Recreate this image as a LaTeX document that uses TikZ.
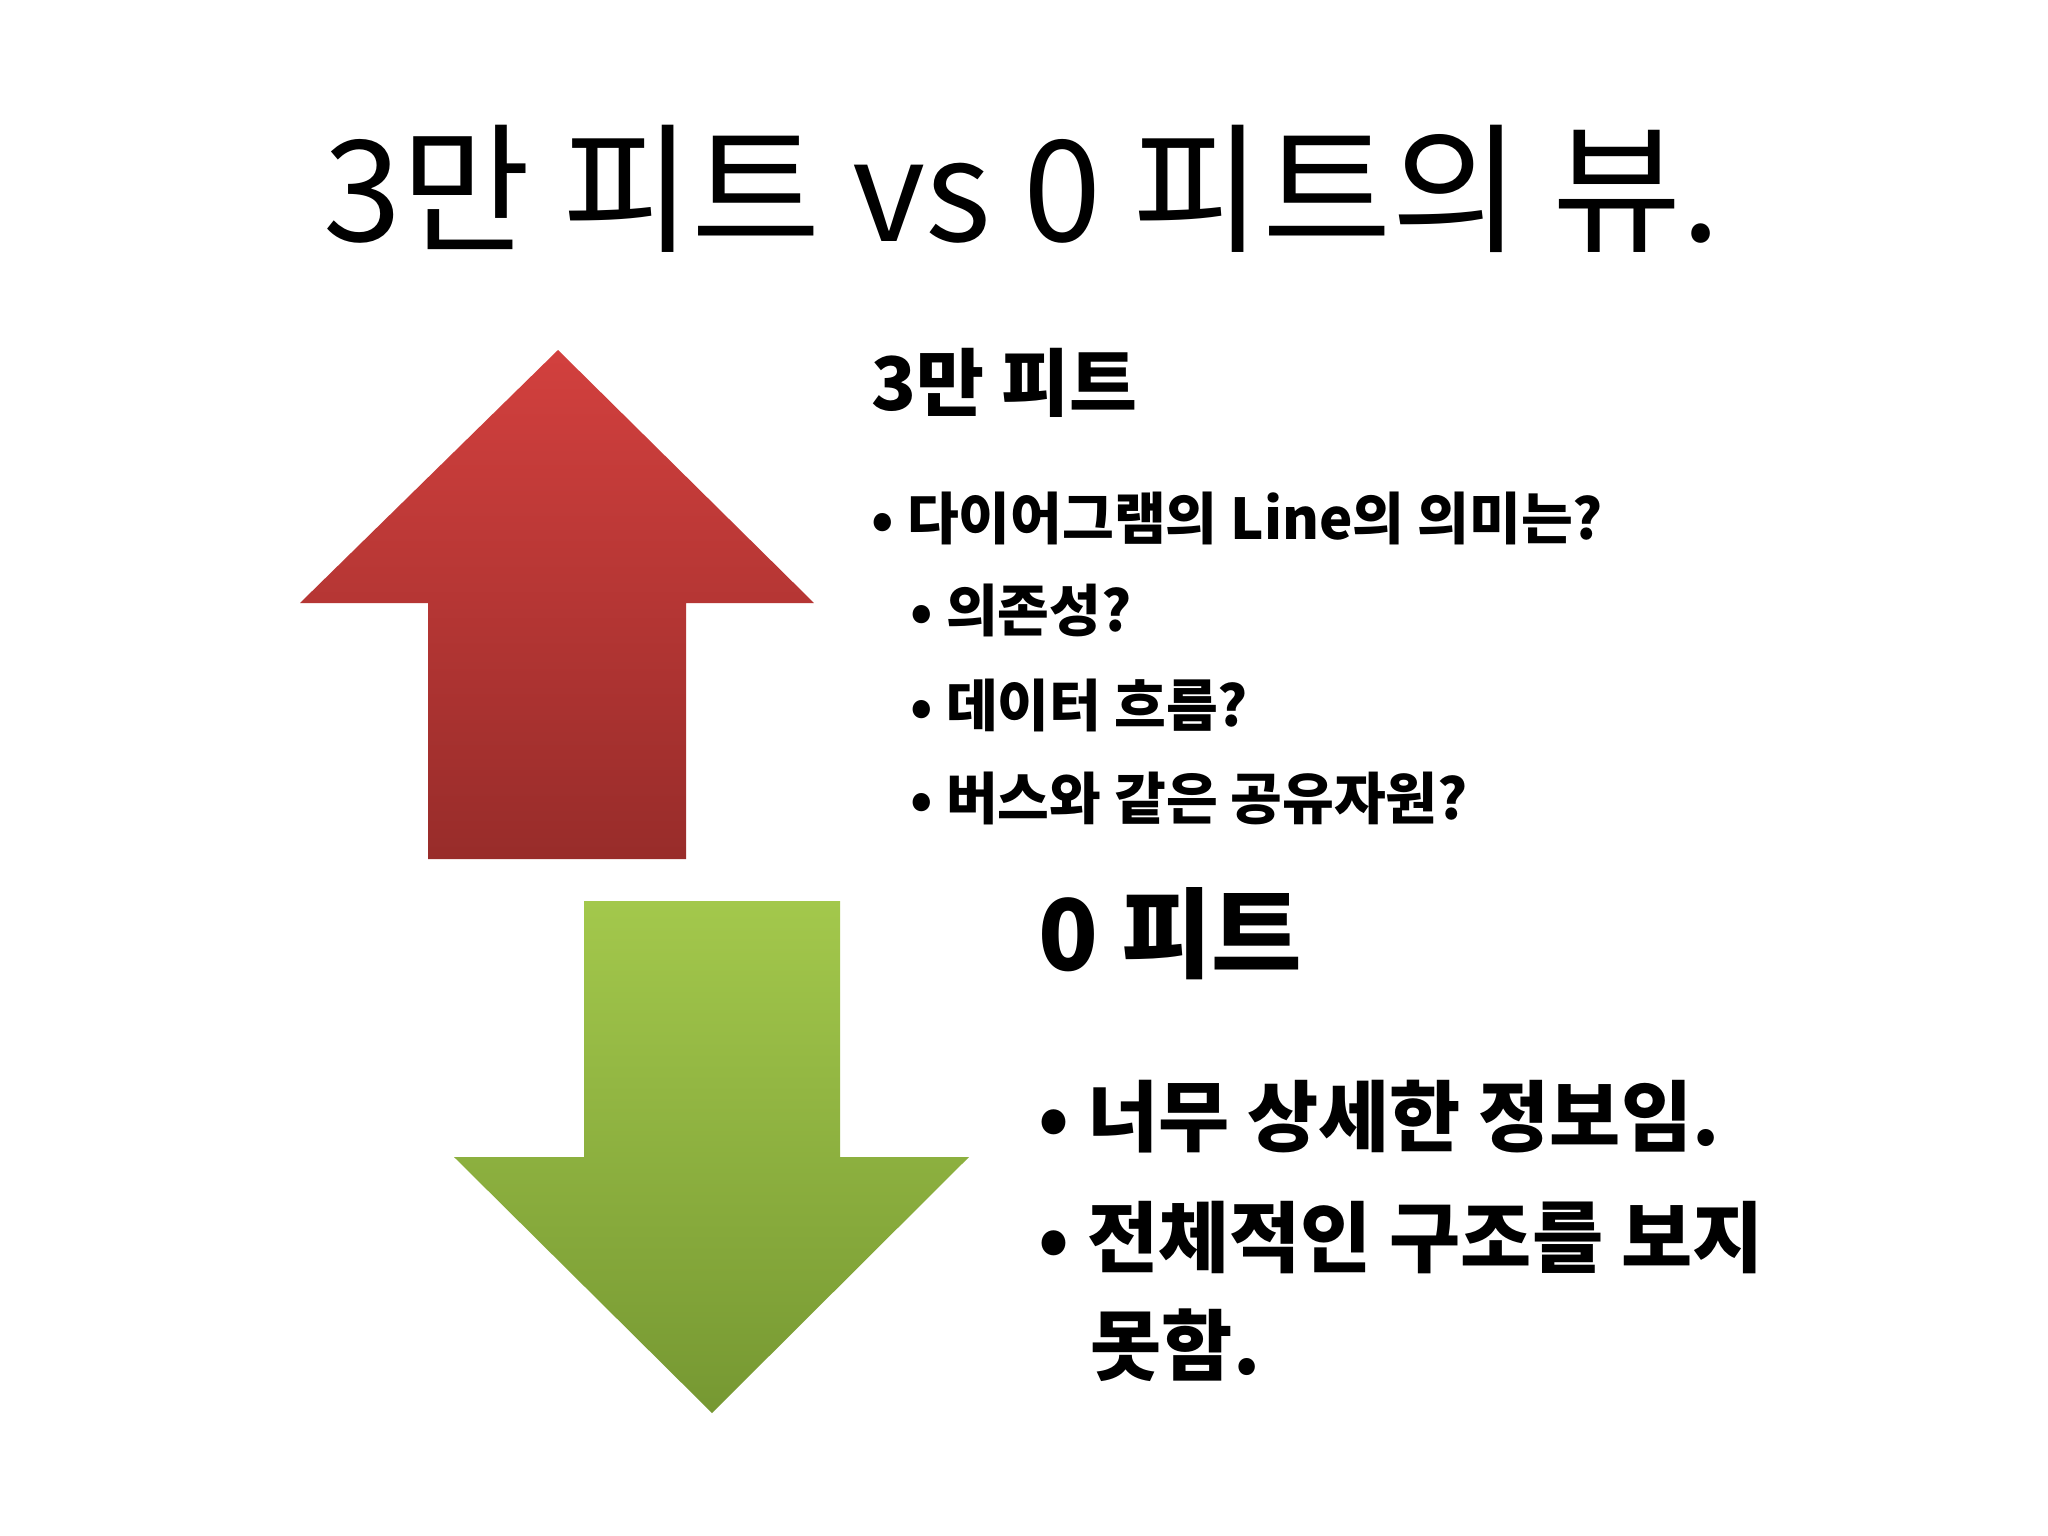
\documentclass[tikz,border=0pt]{standalone}
\usepackage{fontspec}
\setmainfont{Noto Sans CJK KR}
\begin{document}
\begin{tikzpicture}[x=0.01cm,y=-0.01cm,
  txt/.style={anchor=west,inner sep=0pt,font=\bfseries}]
\useasboundingbox[fill=white] (0,0) rectangle (2048,1536);
\definecolor{rt}{RGB}{210,64,62}\definecolor{rb}{RGB}{152,44,42}
\definecolor{gt}{RGB}{163,200,76}\definecolor{gb}{RGB}{118,152,50}
\shade[top color=rt,bottom color=rb] (558,350) -- (814,603) -- (686,603) -- (686,859) -- (428,859) -- (428,603) -- (300,603) -- cycle;
\shade[top color=gt,bottom color=gb] (584,901) -- (840,901) -- (840,1157) -- (969,1157) -- (712,1413) -- (454,1157) -- (584,1157) -- cycle;
\node[anchor=center,inner sep=0pt,font=\fontsize{40}{48}\selectfont] (title) at (1022,189) {3만 피트 vs 0 피트의 뷰.};
\node[txt,font=\bfseries\fontsize{21}{25}\selectfont] (h1) at (871,383) {3만 피트};
\node[txt,font=\bfseries\fontsize{16}{20}\selectfont] (b1) at (871,518) {• 다이어그램의 Line의 의미는?};
\node[txt,font=\bfseries\fontsize{16}{20}\selectfont] (b2) at (910,610) {• 의존성?};
\node[txt,font=\bfseries\fontsize{16}{20}\selectfont] (b3) at (910,705) {• 데이터 흐름?};
\node[txt,font=\bfseries\fontsize{16}{20}\selectfont] (b4) at (910,798) {• 버스와 같은 공유자원?};
\node[txt,font=\bfseries\fontsize{28}{34}\selectfont] (h2) at (1038,934) {0 피트};
\node[txt,font=\bfseries\fontsize{22}{26}\selectfont] (c1) at (1038,1117) {• 너무 상세한 정보임.};
\node[txt,font=\bfseries\fontsize{22}{26}\selectfont] (c2) at (1038,1238) {• 전체적인 구조를 보지};
\node[txt,font=\bfseries\fontsize{22}{26}\selectfont] (c3) at (1090,1345) {못함.};
\end{tikzpicture}
\end{document}
